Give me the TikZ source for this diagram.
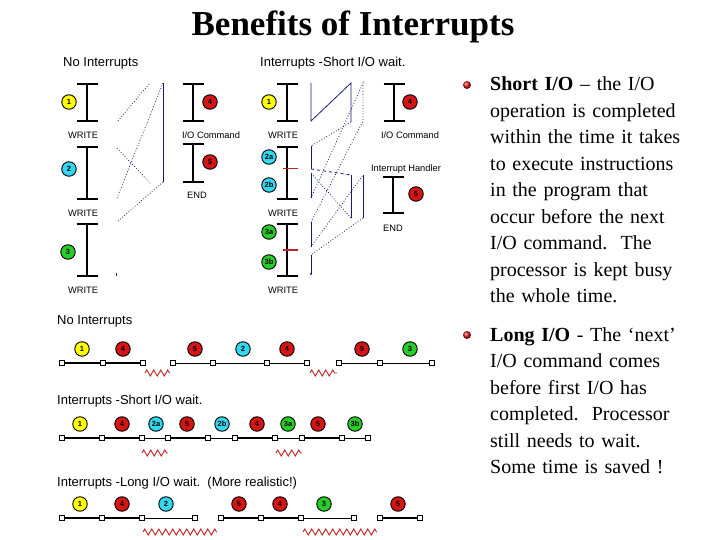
\documentclass[tikz,border=0pt]{standalone}
\usepackage{fontspec}
\setmainfont{Liberation Serif}
\setsansfont{Liberation Sans}
\usetikzlibrary{positioning,arrows.meta,decorations.pathmorphing,calc}

\definecolor{yel}{RGB}{255,255,0}
\definecolor{cyn}{RGB}{50,215,240}
\definecolor{grn}{RGB}{40,205,40}
\definecolor{rd}{RGB}{215,20,20}
\definecolor{flowblue}{RGB}{25,25,120}
\definecolor{waitred}{RGB}{190,35,35}

\begin{document}
\begin{tikzpicture}[x=1pt,y=-1pt,
stepdot/.style={
  draw,
  circle,
  line width=0.9pt,
  inner sep=0pt,
  minimum size=14.5pt,
  font=\sffamily\bfseries\fontsize{7.5}{8}\selectfont},
progbar/.style={line width=1.8pt,{Bar[width=21pt]}-{Bar[width=21pt]}},
lbl/.style={font=\sffamily\fontsize{9.3}{10}\selectfont,inner sep=0pt,anchor=base},
hdr/.style={font=\sffamily\fontsize{13}{15}\selectfont,inner sep=0pt,anchor=base west},
ioflow/.style={draw=flowblue,line width=0.8pt},
boxmark/.style={draw,fill=white,inner sep=0pt,minimum size=4.5pt,line width=0.9pt},
busy/.style={line width=1.4pt},
idle/.style={line width=0.7pt},
wait/.style={draw=waitred,line width=0.9pt,decorate,
  decoration={zigzag,segment length=7pt,amplitude=3pt}}
]
\useasboundingbox (0,0) rectangle (720,540);
\node[font=\fontsize{35}{40}\selectfont\bfseries,anchor=base] (title) at (353,36) {Benefits of Interrupts};

% no interrupts, program flow
\node[hdr] (noint) at (63,67) {No Interrupts};
\foreach \ya/\yb in {83/122,146/200,223/277}
  \draw[progbar] (87,\ya) -- (87,\yb);
\foreach \ya/\yb in {83/122,143/183}
  \draw[progbar] (193,\ya) -- (193,\yb);
\foreach \n/\x/\y/\c in {1/69/102/yel,2/69/169/cyn,3/68/252/grn,4/210/102/rd,5/210/162/rd}
  \node[stepdot,fill=\c] (na\n) at (\x,\y) {\n};
\foreach \y [count=\i] in {139,217,293}
  \node[lbl] (nw\i) at (83,\y) {WRITE};
\node[lbl] (niocmd) at (211,139) {I/O Command};
\node[lbl] (nend) at (197,199) {END};
\draw[ioflow,dotted] (118,121) -- (150,83);
\draw[ioflow,dotted] (163,83) -- (117,198);
\draw[ioflow] (163,83) -- (163,182);
\draw[ioflow,dotted] (117,148) -- (150,183);
\draw[ioflow,dotted] (163,182) -- (117,222);
\draw[ioflow] (116,273) -- (116,276);

% short i/o wait, program flow
\node[hdr] (shortint) at (260,67) {Interrupts -Short I/O wait.};
\foreach \ya/\yb in {83/122,146/200,223/277}
  \draw[progbar] (287,\ya) -- (287,\yb);
\draw[progbar] (394,83) -- (394,122);
\draw[progbar] (393,176) -- (393,214);
\draw[waitred,line width=1pt] (283,169) -- (298,169);
\draw[waitred,line width=1.8pt] (283,250) -- (298,250);
\foreach \n/\x/\y/\c in {1/269/102/yel,2a/269/157/cyn,2b/269/185/cyn,3a/269/232/grn,3b/269/262/grn,4/410/102/rd,5/416/194/rd}
  \node[stepdot,fill=\c] (sa\n) at (\x,\y) {\n};
\foreach \y [count=\i] in {139,217,293}
  \node[lbl] (sw\i) at (283,\y) {WRITE};
\node[lbl] (siocmd) at (410,139) {I/O Command};
\node[lbl] (shandler) at (406,172) {Interrupt Handler};
\node[lbl] (send) at (393,232) {END};
\draw[ioflow] (311,83) -- (311,121) -- (351,83) -- (351,122);
\draw[ioflow,dotted] (351,122) -- (311,146);
\draw[ioflow] (311,146) -- (311,169);
\draw[ioflow,dashed] (311,169) -- (351,175);
\draw[ioflow] (351,175) -- (351,218);
\draw[ioflow,dotted] (351,218) -- (311,173);
\draw[ioflow] (311,173) -- (311,198);
\draw[ioflow,dotted] (311,198) -- (363,83) -- (363,121) -- (311,222);
\draw[ioflow] (311,222) -- (311,247);
\draw[ioflow,dotted] (311,247) -- (363,175);
\draw[ioflow] (363,175) -- (363,218);
\draw[ioflow,dotted] (363,218) -- (311,255);
\draw[ioflow,-{Latex[length=3pt,width=2.5pt]}] (311,255) -- (311,276);

% timelines
\node[hdr] (tlno) at (57,324) {No Interrupts};
\foreach \x [count=\i] in {62,103,143,173,213,267,307,339,380,432}
  \node[boxmark] (ta\i) at (\x,363) {};
\foreach \a/\b/\w in {1/2/busy,2/3/busy,4/5/idle,5/6/idle,6/7/idle,8/9/idle,9/10/idle}
  \draw[\w] (ta\a) -- (ta\b);
\foreach \n/\x/\c [count=\i] in {1/82/yel,4/123/rd,5/195/rd,2/243/cyn,4/287/rd,5/362/rd,3/410/grn}
  \node[stepdot,fill=\c] (tac\i) at (\x,349) {\n};
\draw[wait] (145,373) -- (170,373);
\draw[wait] (310,373) -- (337,373);

\node[hdr] (tlshort) at (57,404) {Interrupts -Short I/O wait.};
\foreach \x [count=\i] in {62,102,142,168,208,235,275,302,342,368}
  \node[boxmark] (tb\i) at (\x,438) {};
\foreach \a/\b/\w in {1/2/busy,2/3/busy,3/4/idle,4/5/busy,5/6/idle,6/7/busy,7/8/idle,8/9/busy,9/10/idle}
  \draw[\w] (tb\a) -- (tb\b);
\foreach \n/\x/\c [count=\i] in {1/80/yel,4/122/rd,2a/156/cyn,5/187/rd,2b/222/cyn,4/257/rd,3a/288/grn,5/318/rd,3b/355/grn}
  \node[stepdot,fill=\c] (tbc\i) at (\x,424) {\n};
\draw[wait] (142,453) -- (168,453);
\draw[wait] (276,453) -- (302,453);

\node[hdr] (tllong) at (57,486) {Interrupts -Long I/O wait.\ \ (More realistic!)};
\foreach \x [count=\i] in {62,102,142,195,221,261,301,354,380,420}
  \node[boxmark] (tc\i) at (\x,518) {};
\foreach \a/\b/\w in {1/2/busy,2/3/busy,3/4/idle,5/6/busy,6/7/busy,7/8/idle,9/10/busy}
  \draw[\w] (tc\a) -- (tc\b);
\foreach \n/\x/\c [count=\i] in {1/80/yel,4/122/rd,2/166/cyn,5/239/rd,4/280/rd,3/324/grn,5/398/rd}
  \node[stepdot,fill=\c] (tcc\i) at (\x,504) {\n};
\draw[wait] (143,532) -- (217,532);
\draw[wait] (303,532) -- (377,532);

% bullet text
\shade[ball color=rd] (467,85) circle (4);
\shade[ball color=rd] (467,335) circle (4);
\node[anchor=base west,inner sep=0pt,text width=225pt,align=left,
  font=\fontsize{20}{26.5}\selectfont] (shorttxt) at (490,91)
  {\textbf{Short I/O} -- the I/O\\ operation is completed\\ within the time it takes\\
   to execute instructions\\ in the program that\\ occur before the next\\
   I/O command.\ \ The\\ processor is kept busy\\ the whole time.};
\node[anchor=base west,inner sep=0pt,text width=225pt,align=left,
  font=\fontsize{20}{26.5}\selectfont] (longtxt) at (490,341)
  {\textbf{Long I/O} - The ‘next’\\ I/O command comes\\ before first I/O has\\
   completed.\ \ Processor\\ still needs to wait.\\ Some time is saved !};
\end{tikzpicture}
\end{document}
